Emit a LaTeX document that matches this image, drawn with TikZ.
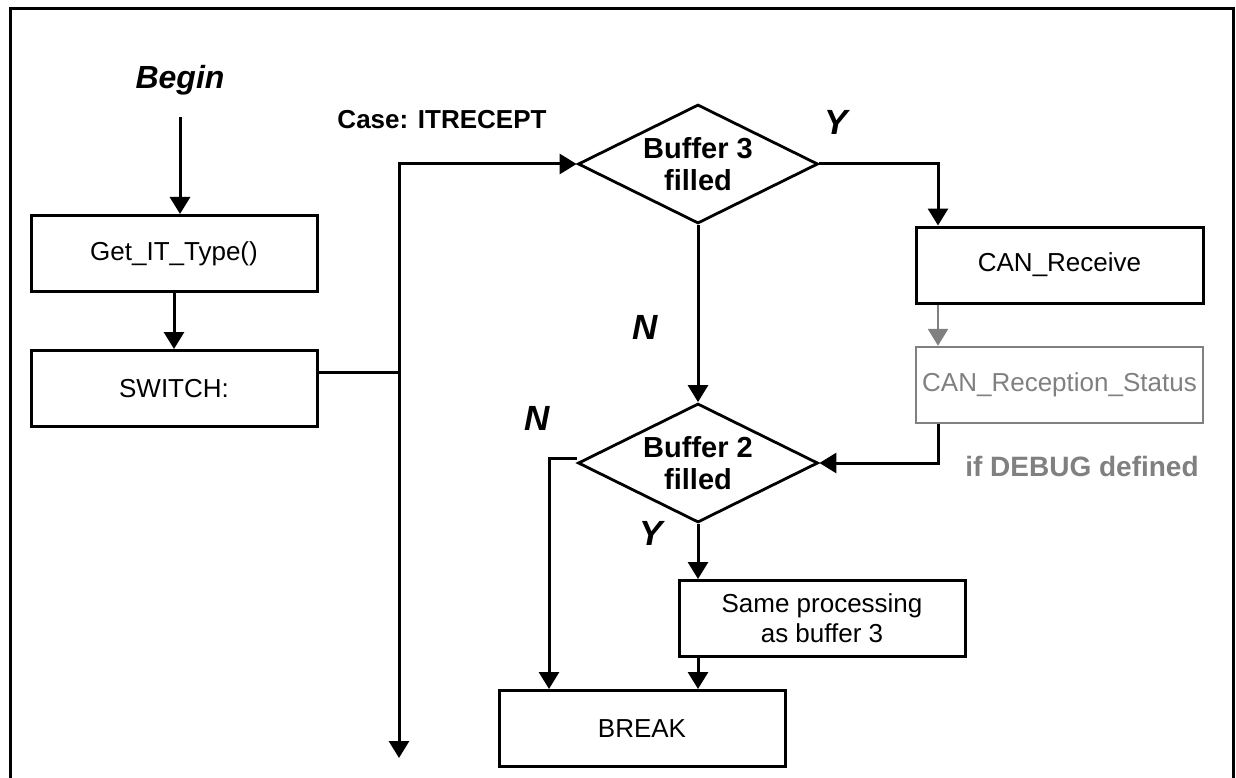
\documentclass[tikz,border=0pt]{standalone}
\usepackage{fontspec}
\setmainfont{Liberation Sans}
\usetikzlibrary{arrows.meta,shapes.geometric,calc}
\definecolor{dgray}{RGB}{128,128,128}
\tikzset{
  ln/.style={line width=3pt},
  arr/.style={ln,-{Triangle[length=17pt,width=20pt]}},
  garr/.style={line width=2.4pt,dgray,-{Triangle[length=17pt,width=20pt]}},
  box/.style={draw,line width=3pt,minimum width=286pt,minimum height=76pt,inner sep=0pt,font=\fontsize{26}{30}\selectfont,align=center},
  gbox/.style={box,draw=dgray,line width=2.4pt,text=dgray},
  dia/.style={draw,line width=2.8pt,shape=diamond,aspect=2,inner sep=0pt,minimum width=240pt,minimum height=119pt,font=\bfseries\fontsize{29}{32}\selectfont,align=center},
  yn/.style={font=\bfseries\itshape\fontsize{35}{38}\selectfont,inner sep=0pt},
  lbl/.style={font=\bfseries\fontsize{26}{30}\selectfont,inner sep=0pt}
}
\begin{document}
\begin{tikzpicture}[x=1pt,y=-1pt]
\useasboundingbox (0,0) rectangle (1236,778);
% frame
\draw[line width=3pt] (10,778) -- (10,9) -- (1233,9) -- (1233,778);
% nodes
\node[font=\bfseries\itshape\fontsize{32}{36}\selectfont,inner sep=0pt] (begin) at (180,80) {Begin};
\node[box] (get) at (174,253.5) {Get\_IT\_Type()};
\node[box] (sw) at (174,388.5) {SWITCH:};
\node[lbl] (case) at (442,120) {Case: ITRECEPT};
\node[dia] (b3) at (698,164) {Buffer 3\\filled};
\node[dia] (b2) at (698,463) {Buffer 2\\filled};
\node[box,minimum width=287pt] (rx) at (1059.5,265) {CAN\_Receive};
\node[gbox,minimum width=287pt] (st) at (1059.5,385) {CAN\_Reception\_Status};
\node[lbl,text=dgray,font=\bfseries\fontsize{28}{31}\selectfont] (dbg) at (1082,466) {if DEBUG defined};
\node[box] (same) at (822,618.5) {Same processing\\as buffer 3};
\node[box] (brk) at (642,728.5) {BREAK};
\node[yn] (y1) at (836,122) {Y};
\node[yn] (n1) at (645,327) {N};
\node[yn] (n2) at (537,418) {N};
\node[yn] (y2) at (651,533) {Y};
% helper coordinates
\coordinate (j1) at (399,372);
\coordinate (jtop) at (399,164);
\coordinate (jbot) at (399,758);
\coordinate (c1) at (938,164);
\coordinate (c2) at (938,463);
\coordinate (c3) at (549,458);
% connectors
\draw[arr,shorten <=22pt] (begin.south) -- (begin.south |- get.north);
\draw[arr] (get.south) -- (sw.north);
\draw[ln] (sw.east |- j1) -- (j1);
\draw[arr] (j1) -- (jtop) -- (b3.west);
\draw[arr] (j1) -- (jbot);
\draw[arr] (b3.east) -- (c1) -- (c1 |- rx.north);
\draw[garr] (c1 |- rx.south) -- (c1 |- st.north);
\draw[arr] (c1 |- st.south) -- (c2) -- (b2.east);
\draw[arr] (b3.south) -- (b2.north);
\draw[arr] (c3 -| b2.west) -- (c3) -- (c3 |- brk.north);
\draw[arr] (b2.south) -- (b2.south |- same.north);
\draw[arr] (b2.south |- same.south) -- (b2.south |- brk.north);
\end{tikzpicture}
\end{document}
